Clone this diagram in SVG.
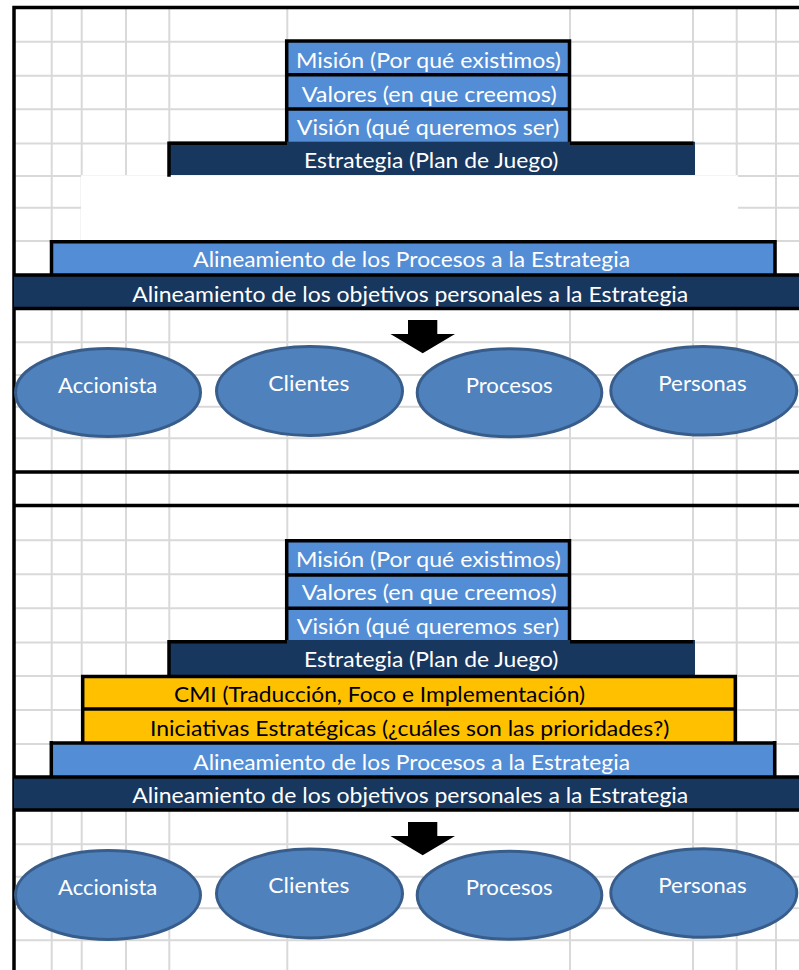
<svg xmlns="http://www.w3.org/2000/svg" width="799" height="970" viewBox="0 0 799 970">
<style>
.grid{stroke:#D9D9D9;stroke-width:2;fill:none}
.frame{stroke:#000;stroke-width:3.5;fill:none}
.edge{stroke:#000;stroke-width:3.5;fill:none}
.blue{fill:#538DD5}
.navy{fill:#17375E}
.gold{fill:#FFC000}
.ell{fill:#4F81BD;stroke:#385D8A;stroke-width:3}
.arrow{fill:#000}
text{font-family:Lato,"Open Sans","Liberation Sans",sans-serif;font-size:21px}
.w{fill:#FFFFFF}
.k{fill:#000000}
.e{font-size:22px}
</style>
<rect x="0" y="0" width="799" height="970" fill="#FFFFFF"/>
<g id="grid">
<path class="grid" d="M14 41.7H799M14 75.7H799M14 109.3H799M14 143.5H799M14 176H799M14 207.7H799M14 241H799M14 342.3H799M14 375H799M14 406.7H799M14 438.3H799M14 540.3H799M14 574.3H799M14 608.3H799M14 642.5H799M14 676H799M14 710H799M14 744H799M14 844.3H799M14 876.7H799M14 908.3H799M14 940.3H799"/>
<path class="grid" d="M51.7 7.5V970M81.7 7.5V970M126 7.5V970M169.3 7.5V970M287.3 7.5V970M570 7.5V970M693 7.5V970M736.7 7.5V970M776 7.5V970"/>
<path class="grid" d="M14 472H799M14 505.5H799" stroke="none"/>
<rect x="81" y="175.3" width="657" height="64.7" fill="#FFFFFF"/>
</g>
<g id="frame">
<path class="frame" d="M12.3 7.5H799M14 6V970M14 472H799M14 505.5H799"/>
</g>
<!-- top section -->
<g id="t-mision">
<rect class="blue" x="287" y="40" width="283" height="35"/>
<text class="w" x="296" y="68.3" textLength="265" lengthAdjust="spacingAndGlyphs">Misión (Por qué existimos)</text>
</g>
<g id="t-valores">
<rect class="blue" x="287" y="75" width="283" height="34"/>
<text class="w" x="301.7" y="101.7" textLength="255" lengthAdjust="spacingAndGlyphs">Valores (en que creemos)</text>
</g>
<g id="t-vision">
<rect class="blue" x="287" y="109" width="283" height="33"/>
<text class="w" x="296.7" y="135.3" textLength="262.6" lengthAdjust="spacingAndGlyphs">Visión (qué queremos ser)</text>
</g>
<g id="t-block-edges">
<path class="edge" d="M285 41H571.2M286.7 39.3V143M569.5 39.3V143M286.7 74.7H569.5M286.7 109H569.5"/>
</g>
<g id="t-estrategia">
<rect class="navy" x="169" y="141.7" width="526" height="33.3"/>
<path class="edge" d="M167.3 143.3H287M570 143.3H693.3M169 141.6V176.7"/>
<text class="w" x="304" y="168.3" textLength="254.3" lengthAdjust="spacingAndGlyphs">Estrategia (Plan de Juego)</text>
</g>
<g id="t-procesos">
<rect class="blue" x="51.5" y="241.5" width="723.5" height="33.5"/>
<path class="edge" d="M49.7 241.7H776.8M51.5 240V275M775 240V275"/>
<text class="w" x="193.3" y="267.3" textLength="436.7" lengthAdjust="spacingAndGlyphs">Alineamiento de los Procesos a la Estrategia</text>
</g>
<g id="t-objetivos">
<rect class="navy" x="14" y="275" width="785" height="33.5"/>
<path class="edge" d="M14 275H799M14 308.5H799"/>
<text class="w" x="132.3" y="301.7" textLength="556" lengthAdjust="spacingAndGlyphs">Alineamiento de los objetivos personales a la Estrategia</text>
</g>
<!-- bottom section -->
<g id="b-mision">
<rect class="blue" x="287" y="539.5" width="283" height="35.5"/>
<text class="w" x="296" y="566.5" textLength="265" lengthAdjust="spacingAndGlyphs">Misión (Por qué existimos)</text>
</g>
<g id="b-valores">
<rect class="blue" x="287" y="575" width="283" height="33.3"/>
<text class="w" x="301.7" y="600" textLength="255" lengthAdjust="spacingAndGlyphs">Valores (en que creemos)</text>
</g>
<g id="b-vision">
<rect class="blue" x="287" y="608.3" width="283" height="33"/>
<text class="w" x="296.7" y="633.8" textLength="262.6" lengthAdjust="spacingAndGlyphs">Visión (qué queremos ser)</text>
</g>
<g id="b-block-edges">
<path class="edge" d="M285 540.7H571.2M286.7 539V642M569.5 539V642M286.7 575H569.5M286.7 608.3H569.5"/>
</g>
<g id="b-estrategia">
<rect class="navy" x="169" y="640" width="526" height="36"/>
<path class="edge" d="M167.3 641.7H287M570 641.7H693.3M169 640V676"/>
<text class="w" x="304" y="667.3" textLength="254.3" lengthAdjust="spacingAndGlyphs">Estrategia (Plan de Juego)</text>
</g>
<g id="b-cmi">
<rect class="gold" x="82.7" y="676.5" width="652.6" height="32.5"/>
<text class="k" x="174" y="702.3" textLength="411" lengthAdjust="spacingAndGlyphs">CMI (Traducción, Foco e Implementación)</text>
</g>
<g id="b-iniciativas">
<rect class="gold" x="82.7" y="709" width="652.6" height="34"/>
<text class="k" x="150" y="736" textLength="519.3" lengthAdjust="spacingAndGlyphs">Iniciativas Estratégicas (¿cuáles son las prioridades?)</text>
</g>
<g id="b-gold-edges">
<path class="edge" d="M81 676.5H737M82.7 675V743M735.3 675V743M82.7 709H735.3"/>
</g>
<g id="b-procesos">
<rect class="blue" x="51.3" y="743" width="723.4" height="34"/>
<path class="edge" d="M49.5 743H776.5M51.3 741V777M774.7 741V777"/>
<text class="w" x="193.3" y="770" textLength="436.7" lengthAdjust="spacingAndGlyphs">Alineamiento de los Procesos a la Estrategia</text>
</g>
<g id="b-objetivos">
<rect class="navy" x="14" y="777" width="785" height="33"/>
<path class="edge" d="M14 777H799M14 810H799"/>
<text class="w" x="132.3" y="803.3" textLength="556" lengthAdjust="spacingAndGlyphs">Alineamiento de los objetivos personales a la Estrategia</text>
</g>
<g id="connectors">
<polygon class="arrow" points="408,320 437.3,320 437.3,334 455,334 422.7,353.3 390.4,334 408,334"/>
<polygon class="arrow" points="408,822 437.3,822 437.3,836 455,836 422.7,855.3 390.4,836 408,836"/>
</g>
<g id="t-accionista">
<ellipse class="ell" cx="108" cy="392.5" rx="92.5" ry="44"/>
<text class="w e" x="58" y="392.7" textLength="99.3" lengthAdjust="spacingAndGlyphs">Accionista</text>
</g>
<g id="t-clientes">
<ellipse class="ell" cx="309.5" cy="391" rx="93" ry="44.5"/>
<text class="w e" x="268.3" y="391" textLength="81" lengthAdjust="spacingAndGlyphs">Clientes</text>
</g>
<g id="t-procesos-e">
<ellipse class="ell" cx="509.5" cy="392.8" rx="92.3" ry="44"/>
<text class="w e" x="465.7" y="392.7" textLength="87" lengthAdjust="spacingAndGlyphs">Procesos</text>
</g>
<g id="t-personas">
<ellipse class="ell" cx="703.8" cy="390.8" rx="93" ry="44.3"/>
<text class="w e" x="658.3" y="391" textLength="88.3" lengthAdjust="spacingAndGlyphs">Personas</text>
</g>
<g id="b-accionista">
<ellipse class="ell" cx="108" cy="895" rx="92.5" ry="44.5"/>
<text class="w e" x="58" y="895" textLength="99.3" lengthAdjust="spacingAndGlyphs">Accionista</text>
</g>
<g id="b-clientes">
<ellipse class="ell" cx="309.5" cy="893.5" rx="93" ry="44.5"/>
<text class="w e" x="268.3" y="892.7" textLength="81" lengthAdjust="spacingAndGlyphs">Clientes</text>
</g>
<g id="b-procesos-e">
<ellipse class="ell" cx="509.5" cy="895.3" rx="92.3" ry="44"/>
<text class="w e" x="465.7" y="895" textLength="87" lengthAdjust="spacingAndGlyphs">Procesos</text>
</g>
<g id="b-personas">
<ellipse class="ell" cx="703.8" cy="893" rx="93" ry="44.3"/>
<text class="w e" x="658.3" y="892.7" textLength="88.3" lengthAdjust="spacingAndGlyphs">Personas</text>
</g>
</svg>
